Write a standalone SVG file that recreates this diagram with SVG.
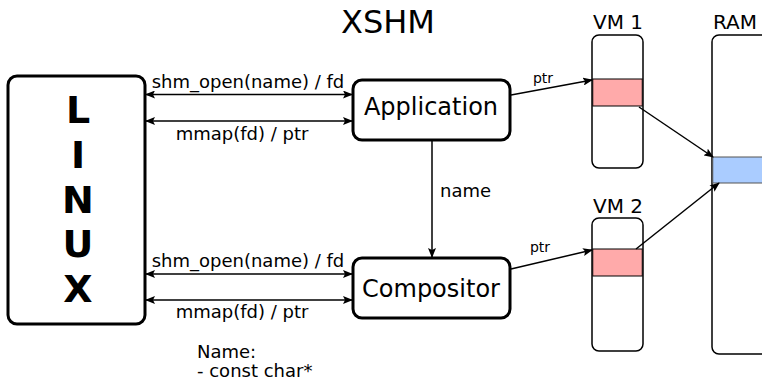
<svg xmlns="http://www.w3.org/2000/svg" width="762" height="382" viewBox="0 0 762 382">
<defs>
<marker id="ah" markerUnits="userSpaceOnUse" markerWidth="10" markerHeight="8" refX="9" refY="4" orient="auto-start-reverse" viewBox="0 0 10 8">
<path d="M0,0 L10,4 L0,8 L2,4 Z" fill="#000"/>
</marker>
</defs>
<style>
text{font-family:"DejaVu Sans","Liberation Sans",sans-serif;fill:#000}
.box{fill:#fff;stroke:#000;stroke-width:3}
.mem{fill:#fff;stroke:#000;stroke-width:1.5}
.line{fill:none;stroke:#000;stroke-width:1.5}
.arr{fill:none;stroke:#000;stroke-width:1.5;marker-end:url(#ah)}
.darr{fill:none;stroke:#000;stroke-width:1.5;marker-end:url(#ah);marker-start:url(#ah)}
.lbl{font-size:18px}
.small{font-size:14px}
.big{font-size:24px}
.linux{font-size:38px;font-weight:bold}
</style>
<rect width="762" height="382" fill="#fff"/>
<text x="388" y="33" text-anchor="middle" style="font-size:32px">XSHM</text>

<g id="linux">
<rect class="box" x="8" y="76" width="137" height="248" rx="9"/>
<text class="linux" x="78" y="123" text-anchor="middle">L</text>
<text class="linux" x="78" y="168" text-anchor="middle">I</text>
<text class="linux" x="78" y="213" text-anchor="middle">N</text>
<text class="linux" x="78" y="257" text-anchor="middle">U</text>
<text class="linux" x="78" y="302" text-anchor="middle">X</text>
</g>

<g id="application">
<rect class="box" x="353" y="80" width="157" height="60" rx="9"/>
<text class="big" x="431" y="115" text-anchor="middle">Application</text>
</g>

<g id="compositor">
<rect class="box" x="353" y="258" width="157" height="60" rx="9"/>
<text class="big" x="431" y="297" text-anchor="middle">Compositor</text>
</g>

<g id="vm1">
<text x="618" y="29" text-anchor="middle" style="font-size:20px">VM 1</text>
<rect class="mem" x="592" y="35" width="51" height="133" rx="7"/>
<rect x="592.75" y="79" width="49.5" height="27" fill="#ffaaaa" stroke="#000" stroke-width="1"/>
</g>

<g id="vm2">
<text x="618" y="213" text-anchor="middle" style="font-size:20px">VM 2</text>
<rect class="mem" x="592" y="218" width="51" height="133" rx="7"/>
<rect x="592.75" y="249" width="49.5" height="27" fill="#ffaaaa" stroke="#000" stroke-width="1"/>
</g>

<g id="ram">
<text x="735" y="29" text-anchor="middle" style="font-size:20px">RAM</text>
<rect class="mem" x="712" y="35" width="60" height="319" rx="7"/>
<rect x="712.75" y="157" width="60" height="26" fill="#aaccff" stroke="#555" stroke-width="1"/>
</g>

<g id="connectors">
<line class="darr" x1="146" y1="94.5" x2="352" y2="94.5"/>
<line class="darr" x1="146" y1="121" x2="352" y2="121"/>
<line class="darr" x1="146" y1="274" x2="352" y2="274"/>
<line class="darr" x1="146" y1="300" x2="352" y2="300"/>
<text class="lbl" x="248" y="88" text-anchor="middle">shm_open(name) / fd</text>
<text class="lbl" x="242" y="140" text-anchor="middle">mmap(fd) / ptr</text>
<text class="lbl" x="248" y="267" text-anchor="middle">shm_open(name) / fd</text>
<text class="lbl" x="242" y="318" text-anchor="middle">mmap(fd) / ptr</text>

<line class="arr" x1="432" y1="141" x2="432" y2="257"/>
<text class="lbl" x="440" y="197">name</text>

<line class="arr" x1="511" y1="95" x2="592" y2="80"/>
<text class="small" x="543" y="83" text-anchor="middle">ptr</text>
<line class="arr" x1="511" y1="269" x2="592" y2="250"/>
<text class="small" x="540" y="252" text-anchor="middle">ptr</text>

<line class="arr" x1="639" y1="107" x2="713" y2="157"/>
<line class="arr" x1="636" y1="249" x2="719" y2="183"/>
</g>

<text class="lbl" x="197" y="358">Name:</text>
<text class="lbl" x="197" y="377">- const char*</text>
</svg>
